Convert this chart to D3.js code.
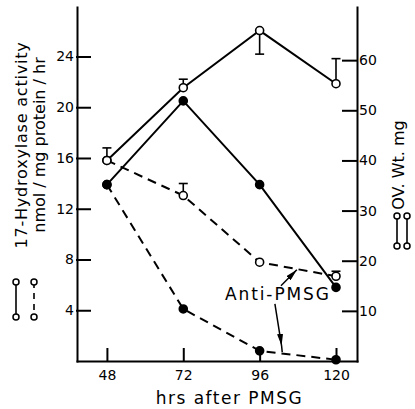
<!DOCTYPE html>
<html>
<head>
<meta charset="utf-8">
<script src="https://cdn.jsdelivr.net/npm/d3@7"></script>
<style>
    body { margin: 0; background: #fff; }
    text { font-family: "DejaVu Sans", sans-serif; fill: #000; }
</style>
</head>
<body>
<script>
const dimensions = {
    width: 415,
    height: 409
}

// hours after PMSG
const hours = [48, 72, 96, 120]

// ovarian weight, mg (right axis) - open circles
const ovWtControl = [40, 54.5, 65.9, 55.3]
const ovWtControlErr = [2.5, 1.7, -4.7, 5]
const ovWtAnti = [40, 33, 19.7, 16.9]
const ovWtAntiErr = [0, 2.4, 0, 1]

// 17-hydroxylase activity (left axis) - filled circles
const hydroxControl = [13.9, 20.5, 13.9, 5.8]
const hydroxAnti = [13.9, 4.1, 0.8, 0.1]

const leftTicks = [4, 8, 12, 16, 20, 24]
const rightTicks = [10, 20, 30, 40, 50, 60]

const svg = d3.select('body').append('svg')
    .attr('width', dimensions.width)
    .attr('height', dimensions.height)

const x = d3.scaleLinear().domain([38.6, 126.6]).range([77, 357])
const yLeft = d3.scaleLinear().domain([0, 27.9]).range([361, 7])
const yRight = d3.scaleLinear().domain([0, 70.6]).range([361, 7])

const series = [
    { values: ovWtControl, err: ovWtControlErr, y: yRight, dash: null, open: true },
    { values: ovWtAnti, err: ovWtAntiErr, y: yRight, dash: '9,6', open: true },
    { values: hydroxControl, err: null, y: yLeft, dash: null, open: false },
    { values: hydroxAnti, err: null, y: yLeft, dash: '9,6', open: false }
]

// axes
function styleAxis(g) {
    g.selectAll('path, line').attr('stroke', '#000').attr('stroke-width', 2).attr('stroke-linecap', 'square')
    g.selectAll('text').attr('font-size', 14).style('font-family', '"DejaVu Sans", sans-serif')
}

svg.append('g')
    .attr('transform', 'translate(' + x.range()[0] + ',0)')
    .call(d3.axisLeft(yLeft).tickValues(leftTicks).tickSize(-13).tickSizeOuter(0).tickPadding(3))
    .call(styleAxis)

svg.append('g')
    .attr('transform', 'translate(' + x.range()[1] + ',0)')
    .call(d3.axisRight(yRight).tickValues(rightTicks).tickSize(-14).tickSizeOuter(0).tickPadding(2))
    .call(styleAxis)

svg.append('g')
    .attr('transform', 'translate(0,' + yLeft.range()[0] + ')')
    .call(d3.axisBottom(x).tickValues(hours).tickSize(-12).tickSizeOuter(0).tickPadding(9))
    .call(styleAxis)

// lines
series.forEach(function (s) {
    const line = d3.line()
        .x(function (d, i) { return x(hours[i]) })
        .y(function (d) { return s.y(d) })
    svg.append('path')
        .datum(s.values)
        .attr('d', line)
        .attr('fill', 'none')
        .attr('stroke', '#000')
        .attr('stroke-width', 2)
        .attr('stroke-dasharray', s.dash)
})

// error bars (one-sided)
series.filter(function (s) { return s.err }).forEach(function (s) {
    s.values.forEach(function (v, i) {
        const e = s.err[i]
        if (!e) return
        const cx = x(hours[i])
        const y2 = s.y(v + e)
        svg.append('line')
            .attr('x1', cx).attr('x2', cx)
            .attr('y1', s.y(v)).attr('y2', y2)
            .attr('stroke', '#000').attr('stroke-width', 1.6)
        svg.append('line')
            .attr('x1', cx - 4.5).attr('x2', cx + 4.5)
            .attr('y1', y2).attr('y2', y2)
            .attr('stroke', '#000').attr('stroke-width', 1.6)
    })
})

// points
series.forEach(function (s) {
    svg.append('g').selectAll('circle')
        .data(s.values)
        .enter()
        .append('circle')
        .attr('cx', function (d, i) { return x(hours[i]) })
        .attr('cy', function (d) { return s.y(d) })
        .attr('r', 4)
        .attr('fill', s.open ? '#fff' : '#000')
        .attr('stroke', '#000')
        .attr('stroke-width', 1.6)
})

// axis titles
svg.append('text')
    .attr('x', x(86.5))
    .attr('y', 404)
    .attr('text-anchor', 'middle')
    .attr('font-size', 17)
    .attr('letter-spacing', 1.5)
    .text('hrs after PMSG')

svg.append('text')
    .attr('transform', 'translate(27,145) rotate(-90)')
    .attr('text-anchor', 'middle')
    .attr('font-size', 16)
    .attr('letter-spacing', 0.8)
    .text('17-Hydroxylase activity')

svg.append('text')
    .attr('transform', 'translate(45,145) rotate(-90)')
    .attr('text-anchor', 'middle')
    .attr('font-size', 16)
    .text('nmol / mg protein / hr')

svg.append('text')
    .attr('transform', 'translate(404,165) rotate(-90)')
    .attr('text-anchor', 'middle')
    .attr('font-size', 16)
    .text('OV. Wt. mg')

// legend keys
function legendKey(cx, top, bottom, dash) {
    svg.append('line')
        .attr('x1', cx).attr('x2', cx)
        .attr('y1', top).attr('y2', bottom)
        .attr('stroke', '#000').attr('stroke-width', 1.6)
        .attr('stroke-dasharray', dash)
    ;[top, bottom].forEach(function (cy) {
        svg.append('circle')
            .attr('cx', cx).attr('cy', cy).attr('r', 3)
            .attr('fill', '#fff').attr('stroke', '#000').attr('stroke-width', 1.5)
    })
}
legendKey(16, 282, 317, null)
legendKey(34, 282, 317, '6,5')
legendKey(397, 216, 246, null)
legendKey(407, 216, 246, null)

// Anti-PMSG annotation
svg.append('defs').append('marker')
    .attr('id', 'arrow')
    .attr('viewBox', '0 -3 12 6')
    .attr('refX', 12)
    .attr('refY', 0)
    .attr('markerUnits', 'userSpaceOnUse')
    .attr('markerWidth', 12)
    .attr('markerHeight', 6)
    .attr('orient', 'auto')
    .append('path')
    .attr('d', 'M0,-3L12,0L0,3Z')
    .attr('fill', '#000')

svg.append('text')
    .attr('x', x(85.1))
    .attr('y', yLeft(4.8))
    .attr('font-size', 17)
    .attr('letter-spacing', 1.9)
    .text('Anti-PMSG')

svg.append('path')
    .attr('d', d3.line()([[x(102.7), yRight(15)], [x(107.7), yRight(18.2)]]))
    .attr('stroke', '#000').attr('stroke-width', 1.5)
    .attr('marker-end', 'url(#arrow)')

svg.append('path')
    .attr('d', d3.line()([[x(100.8), yLeft(4.5)], [x(102.9), yLeft(1.2)], [x(103.1), yLeft(0.7)]]))
    .attr('fill', 'none')
    .attr('stroke', '#000').attr('stroke-width', 1.5)
    .attr('marker-mid', 'url(#arrow)')
</script>
</body>
</html>
